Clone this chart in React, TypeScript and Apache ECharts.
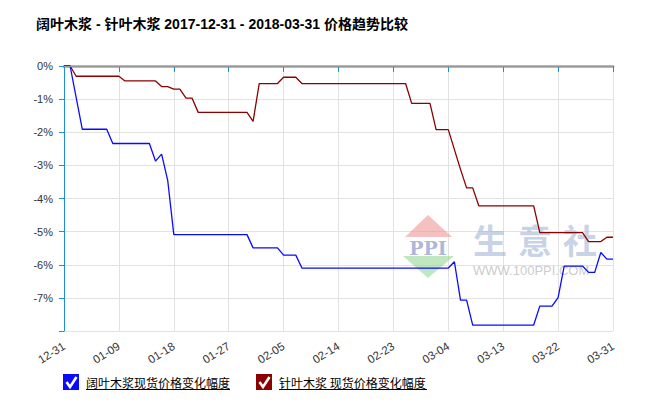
import React, { useEffect, useRef } from "react";
import * as echarts from "echarts";

const titleText = "阔叶木浆 - 针叶木浆 2017-12-31 - 2018-03-31 价格趋势比较";

const categories = [
  "12-31",
  "01-01", "01-02", "01-03", "01-04", "01-05", "01-06", "01-07", "01-08", "01-09", "01-10",
  "01-11", "01-12", "01-13", "01-14", "01-15", "01-16", "01-17", "01-18", "01-19", "01-20",
  "01-21", "01-22", "01-23", "01-24", "01-25", "01-26", "01-27", "01-28", "01-29", "01-30", "01-31",
  "02-01", "02-02", "02-03", "02-04", "02-05", "02-06", "02-07", "02-08", "02-09", "02-10",
  "02-11", "02-12", "02-13", "02-14", "02-15", "02-16", "02-17", "02-18", "02-19", "02-20",
  "02-21", "02-22", "02-23", "02-24", "02-25", "02-26", "02-27", "02-28",
  "03-01", "03-02", "03-03", "03-04", "03-05", "03-06", "03-07", "03-08", "03-09", "03-10",
  "03-11", "03-12", "03-13", "03-14", "03-15", "03-16", "03-17", "03-18", "03-19", "03-20",
  "03-21", "03-22", "03-23", "03-24", "03-25", "03-26", "03-27", "03-28", "03-29", "03-30", "03-31",
];

const seriesNames = ["阔叶木浆现货价格变化幅度", "针叶木浆 现货价格变化幅度"];

const hardwoodDates = [
  "12-31", "01-01", "01-03", "01-07", "01-08", "01-14", "01-15", "01-16", "01-17", "01-18",
  "01-30", "01-31", "02-04", "02-05", "02-07", "02-08", "03-04", "03-05", "03-06", "03-07",
  "03-08", "03-18", "03-19", "03-21", "03-22", "03-23", "03-26", "03-27", "03-28", "03-29",
  "03-30", "03-31",
];
const hardwoodValues = [
  0, 0, -1.91, -1.91, -2.34, -2.34, -2.87, -2.66, -3.45, -5.09,
  -5.09, -5.49, -5.49, -5.71, -5.71, -6.1, -6.1, -5.91, -7.07, -7.07,
  -7.82, -7.82, -7.25, -7.25, -6.99, -6.04, -6.04, -6.23, -6.23, -5.63,
  -5.83, -5.83,
];

const softwoodDates = [
  "12-31", "01-01", "01-02", "01-09", "01-10", "01-15", "01-16", "01-17", "01-18", "01-19",
  "01-20", "01-21", "01-22", "01-30", "01-31", "02-01", "02-04", "02-05", "02-07", "02-08",
  "02-25", "02-26", "03-01", "03-02", "03-04", "03-06", "03-07", "03-08", "03-09", "03-18",
  "03-19", "03-26", "03-27", "03-29", "03-30", "03-31",
];
const softwoodValues = [
  0, 0, -0.31, -0.31, -0.45, -0.45, -0.62, -0.62, -0.7, -0.7,
  -0.97, -0.97, -1.4, -1.4, -1.67, -0.53, -0.53, -0.34, -0.34, -0.53,
  -0.53, -1.13, -1.13, -1.92, -1.92, -3.12, -3.68, -3.68, -4.22, -4.22,
  -5.03, -5.03, -5.3, -5.3, -5.17, -5.17,
];

const yMin = -8;
const yMax = 0;
const yInterval = 1;

const seriesColors = ["#0a0aff", "#8b0000"];

export default function App() {
  const ref = useRef<HTMLDivElement>(null);

  useEffect(() => {
    if (!ref.current) return;
    const chart = echarts.init(ref.current, undefined, { renderer: "svg" });

    const legendGraphics: any[] = [];
    const legendX = [63, 256];
    seriesNames.forEach((name, i) => {
      const x = legendX[i];
      const y = 374;
      legendGraphics.push(
        { type: "rect", shape: { x, y, width: 16, height: 16 }, style: { fill: seriesColors[i] }, z: 10 },
        {
          type: "polyline",
          shape: { points: [[x + 3.5, y + 8], [x + 7, y + 13], [x + 13.5, y + 3]] },
          style: { stroke: "#fff", lineWidth: 2.6, fill: null },
          z: 11,
        },
        {
          type: "text",
          x: x + 23,
          y: y + 8,
          style: {
            text: name,
            fill: "#000",
            font: "12px 'Noto Sans CJK SC', sans-serif",
            verticalAlign: "middle",
            align: "left",
          },
          z: 10,
        },
        {
          type: "line",
          shape: { x1: x + 23, y1: y + 15.5, x2: x + 23 + (i === 0 ? 144 : 148), y2: y + 15.5 },
          style: { stroke: "#000", lineWidth: 1 },
          z: 10,
        }
      );
    });

    const watermark: any[] = [
      {
        type: "polygon",
        shape: { points: [[428, 215], [405, 237], [452, 237]] },
        style: { fill: "rgba(238,150,150,0.6)" },
        z: 1,
      },
      {
        type: "polygon",
        shape: { points: [[403, 256], [454, 256], [428, 278]] },
        style: { fill: "rgba(150,215,150,0.6)" },
        z: 1,
      },
      {
        type: "text",
        x: 428,
        y: 248,
        style: {
          text: "PPI",
          fill: "rgba(140,150,200,0.7)",
          font: "bold 19px 'DejaVu Serif', serif",
          align: "center",
          verticalAlign: "middle",
        },
        z: 1,
      },
      ...["生", "意", "社"].map((ch, i) => ({
        type: "text",
        x: 490 + i * 45,
        y: 239,
        style: {
          text: ch,
          fill: "rgba(165,182,214,0.6)",
          font: "bold 34px 'Noto Sans CJK SC', sans-serif",
          align: "center",
          verticalAlign: "middle",
        },
        z: 1,
      })),
      {
        type: "text",
        x: 473,
        y: 270,
        style: {
          text: "WWW.100PPI.COM",
          fill: "rgba(180,180,180,0.7)",
          font: "13px Arial, 'Liberation Sans', sans-serif",
          align: "left",
          verticalAlign: "middle",
        },
        z: 1,
      },
    ];

    chart.setOption({
      animation: false,
      backgroundColor: "#fff",
      title: {
        text: titleText,
        left: 31,
        top: 12,
        textStyle: {
          fontSize: 14,
          fontWeight: "bold",
          color: "#000",
          fontFamily: "Arial, 'Noto Sans CJK SC', sans-serif",
        },
      },
      grid: { left: 64, right: 38, top: 66, bottom: 78 },
      xAxis: {
        type: "category",
        data: categories,
        boundaryGap: false,
        axisLine: { show: true, lineStyle: { color: "#86c4ea", width: 3 } },
        axisTick: { show: true, interval: 8, length: 6, lineStyle: { color: "#1e8fd5", width: 1 } },
        axisLabel: {
          interval: 8,
          rotate: 32,
          fontSize: 11.5,
          color: "#333",
          margin: 14,
          fontFamily: "Arial, 'Liberation Sans', sans-serif",
        },
        splitLine: { show: true, interval: 8, lineStyle: { color: "#e2e2e2", width: 1 } },
      },
      yAxis: {
        type: "value",
        min: yMin,
        max: yMax,
        interval: yInterval,
        axisLine: { show: true, lineStyle: { color: "#1e8fd5", width: 1 } },
        axisTick: { show: true, length: 5, lineStyle: { color: "#1e8fd5" } },
        axisLabel: {
          fontSize: 11,
          color: "#333",
          margin: 11,
          fontFamily: "Arial, 'Liberation Sans', sans-serif",
          formatter: (v: number) => (v === yMin ? "" : `${v}%`),
        },
        splitLine: { show: true, lineStyle: { color: "#e2e2e2", width: 1 } },
      },
      legend: { show: false },
      graphic: [...watermark, ...legendGraphics],
      series: [
        {
          name: seriesNames[0],
          type: "line",
          data: hardwoodDates.map((d, i) => [d, hardwoodValues[i]]),
          symbol: "none",
          showSymbol: false,
          lineStyle: { color: seriesColors[0], width: 1.3 },
          itemStyle: { color: seriesColors[0] },
          z: 3,
          markLine: {
            silent: true,
            symbol: "none",
            label: { show: false },
            lineStyle: { color: "#999", type: "solid", width: 1.2 },
            data: [{ yAxis: 0 }],
          },
        },
        {
          name: seriesNames[1],
          type: "line",
          data: softwoodDates.map((d, i) => [d, softwoodValues[i]]),
          symbol: "none",
          showSymbol: false,
          lineStyle: { color: seriesColors[1], width: 1.3 },
          itemStyle: { color: seriesColors[1] },
          z: 3,
        },
      ],
    });

    return () => chart.dispose();
  }, []);

  return (
    <div
      ref={ref}
      style={{ position: "absolute", left: 0, top: 0, width: 651, height: 409 }}
    />
  );
}
